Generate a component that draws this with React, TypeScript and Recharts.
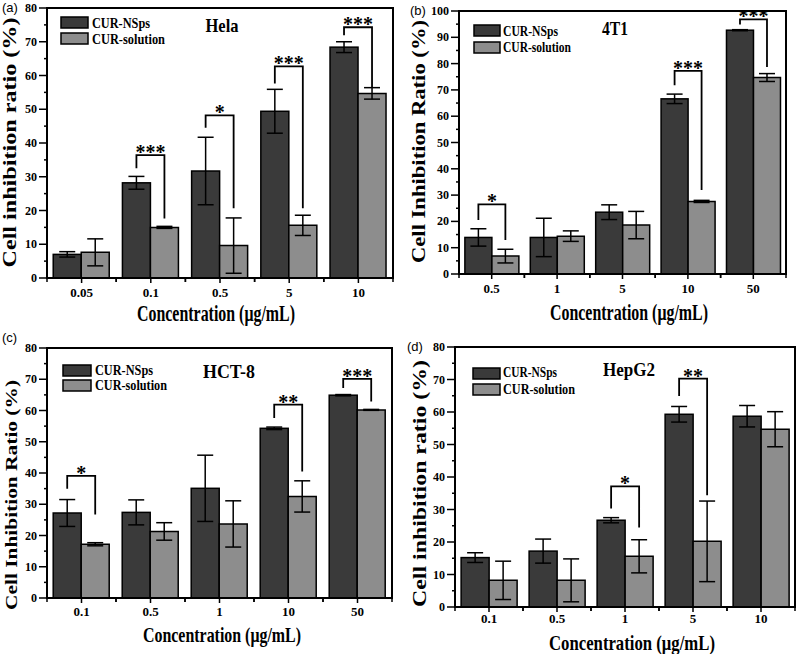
import React from 'react';
import { BarChart, Bar, XAxis, YAxis, ErrorBar, ReferenceArea } from 'recharts';

const SERIF = "'Liberation Serif', 'Times New Roman', serif";
const SANS = "'Liberation Sans', Arial, sans-serif";
const DARK = '#3a3a3a';
const LIGHT = '#8d8d8d';

// significance marks: [bracket top, left leg end, right leg end, stars]
type Sig = [number, number, number, string] | null;

// (a) Hela
const helaConc = ['0.05', '0.1', '0.5', '5', '10'];
const helaNsps = [7.0, 28.2, 31.7, 49.4, 68.4];
const helaNspsSd = [0.8, 1.9, 10.0, 6.5, 1.6];
const helaSol = [7.6, 15.0, 9.6, 15.6, 54.7];
const helaSolSd = [4.0, 0.3, 8.2, 3.0, 1.7];
const helaSig: Sig[] = [null, [36.4, 32.5, 17.6, '***'], [48.2, 44.5, 20.7, '*'], [62.7, 57.6, 20.7, '***'], [74.3, 71.9, 56.4, '***']];

// (b) 4T1
const t1Conc = ['0.5', '1', '5', '10', '50'];
const t1Nsps = [13.9, 13.9, 23.5, 66.6, 92.7];
const t1NspsSd = [3.3, 7.3, 2.8, 1.8, 0.2];
const t1Sol = [6.8, 14.4, 18.6, 27.6, 74.7];
const t1SolSd = [2.6, 2.0, 5.2, 0.4, 1.5];
const t1Sig: Sig[] = [[26.5, 20.5, 12.9, '*'], null, null, [77.2, 71.8, 31.9, '***'], [96.8, 94.9, 78.7, '***']];

// (c) HCT-8
const hctConc = ['0.1', '0.5', '1', '10', '50'];
const hctNsps = [27.2, 27.4, 35.1, 54.3, 64.9];
const hctNspsSd = [4.3, 4.0, 10.6, 0.4, 0.2];
const hctSol = [17.2, 21.3, 23.7, 32.5, 60.2];
const hctSolSd = [0.5, 2.8, 7.4, 5.0, 0.15];
const hctSig: Sig[] = [[39.1, 35.0, 26.7, '*'], null, null, [61.9, 57.6, 40.5, '**'], [70.1, 67.2, 62.9, '***']];

// (d) HepG2
const hepConc = ['0.1', '0.5', '1', '5', '10'];
const hepNsps = [15.2, 17.2, 26.7, 59.3, 58.7];
const hepNspsSd = [1.5, 3.7, 0.8, 2.4, 3.3];
const hepSol = [8.2, 8.2, 15.6, 20.2, 54.7];
const hepSolSd = [5.9, 6.6, 5.1, 12.4, 5.4];
const hepSig: Sig[] = [null, null, [37.1, 30.3, 24.5, '*'], [70.3, 64.9, 34.4, '**'], null];

const panels = [
  {
    letter: '(a)', title: 'Hela', yLabel: 'Cell inhibition ratio (%)', yMax: 80,
    conc: helaConc, nsps: helaNsps, nspsSd: helaNspsSd, sol: helaSol, solSd: helaSolSd, sig: helaSig,
    box: { x: 0, y: 0, w: 400, h: 330 }, plot: { l: 47, t: 8, r: 393, b: 278 }, tickDy: 19,
    letterPos: [2, 12], titlePos: [222, 32, 33], legend: { x: 61, y1: 17, y2: 33, w: 27, tx: 92, b1: 28, b2: 44, l1: 58, l2: 73 },
    yl: [16, 142.5, 250, 24], xl: [216, 321, 158, 24],
  },
  {
    letter: '(b)', title: '4T1', yLabel: 'Cell Inhibition Ratio (%)', yMax: 100,
    conc: t1Conc, nsps: t1Nsps, nspsSd: t1NspsSd, sol: t1Sol, solSd: t1SolSd, sig: t1Sig,
    box: { x: 400, y: 0, w: 400, h: 330 }, plot: { l: 459, t: 11, r: 786, b: 274 }, tickDy: 19,
    letterPos: [410, 15], titlePos: [615, 35, 26], legend: { x: 474, y1: 25, y2: 42, w: 26, tx: 503, b1: 36, b2: 52, l1: 55, l2: 68 },
    yl: [425, 141.5, 243, 24], xl: [629, 320, 158, 24],
  },
  {
    letter: '(c)', title: 'HCT-8', yLabel: 'Cell Inhibition Ratio (%)', yMax: 80,
    conc: hctConc, nsps: hctNsps, nspsSd: hctNspsSd, sol: hctSol, solSd: hctSolSd, sig: hctSig,
    box: { x: 0, y: 330, w: 400, h: 324 }, plot: { l: 47, t: 348, r: 392, b: 598 }, tickDy: 18,
    letterPos: [2, 342], titlePos: [229, 378, 52], legend: { x: 63, y1: 365, y2: 380, w: 28, tx: 95, b1: 375, b2: 390, l1: 58, l2: 72 },
    yl: [17, 495, 230, 22], xl: [222, 642, 158, 22],
  },
  {
    letter: '(d)', title: 'HepG2', yLabel: 'Cell inhibition ratio (%)', yMax: 80,
    conc: hepConc, nsps: hepNsps, nspsSd: hepNspsSd, sol: hepSol, solSd: hepSolSd, sig: hepSig,
    box: { x: 400, y: 330, w: 400, h: 324 }, plot: { l: 455, t: 347, r: 795, b: 607 }, tickDy: 16,
    letterPos: [407, 351], titlePos: [629, 376, 52], legend: { x: 473, y1: 368, y2: 384, w: 27, tx: 503, b1: 377, b2: 394, l1: 54, l2: 72 },
    yl: [426, 483.5, 247, 24], xl: [632, 650, 166, 21],
  },
];

const YTick = (props: any) => {
  const { x, y, payload } = props;
  const major = payload.value % 10 === 0;
  return (
    <g>
      <line x1={x} x2={x - (major ? 8 : 3)} y1={y} y2={y} stroke="#000" strokeWidth={1.5} />
      {major && (
        <text x={x - 10} y={y} dy={4} textAnchor="end" fontFamily={SERIF} fontWeight="bold" fontSize={12} fill="#000">
          {payload.value}
        </text>
      )}
    </g>
  );
};

const XTick = (props: any) => {
  const { x, y, payload, band, dy } = props;
  return (
    <g>
      <line x1={x} x2={x} y1={y} y2={y + 5} stroke="#000" strokeWidth={1.5} />
      <line x1={x - band / 2} x2={x - band / 2} y1={y} y2={y + 4} stroke="#000" strokeWidth={1.5} />
      <line x1={x + band / 2} x2={x + band / 2} y1={y} y2={y + 4} stroke="#000" strokeWidth={1.5} />
      <text x={x} y={y + dy} textAnchor="middle" fontFamily={SERIF} fontWeight="bold" fontSize={13} fill="#000">
        {payload.value}
      </text>
    </g>
  );
};

// dark bar + its significance bracket (right leg over the light bar next to it)
const makeShape = (sig: Sig[]) => (props: any) => {
  const { x, y, width, height, fill, index, payload } = props;
  const m = sig[index];
  let bracket = null;
  if (m && height > 0) {
    const ppu = height / payload.nsps;
    const base = y + height;
    const py = (v: number) => base - v * ppu;
    const lx = x + width / 2;
    const rx = x + width * 1.5;
    bracket = (
      <g>
        <path d={`M${lx},${py(m[1])}V${py(m[0])}H${rx}V${py(m[2])}`} fill="none" stroke="#000" strokeWidth={1.8} />
        <text x={(lx + rx) / 2} y={py(m[0]) + 4} textAnchor="middle" fontFamily={SERIF} fontWeight="bold" fontSize={20} fill="#000">
          {m[3]}
        </text>
      </g>
    );
  }
  return (
    <g>
      <rect x={x} y={y} width={width} height={height} fill={fill} stroke="#000" strokeWidth={1.5} />
      {bracket}
    </g>
  );
};

function Panel({ p }: { p: any }) {
  const rows = p.conc.map((c: string, i: number) => ({
    conc: c, nsps: p.nsps[i], nspsSd: p.nspsSd[i], sol: p.sol[i], solSd: p.solSd[i],
  }));
  const YW = 30;
  const XH = 25;
  const margin = {
    top: p.plot.t - p.box.y,
    left: p.plot.l - p.box.x - YW,
    right: p.box.x + p.box.w - p.plot.r,
    bottom: p.box.y + p.box.h - p.plot.b - XH,
  };
  const band = (p.plot.r - p.plot.l) / p.conc.length;
  const yTicks: number[] = [];
  for (let v = 0; v <= p.yMax; v += 5) yTicks.push(v);
  return (
    <div style={{ position: 'absolute', left: p.box.x, top: p.box.y }}>
      <BarChart width={p.box.w} height={p.box.h} data={rows} margin={margin} barGap={0} barCategoryGap="9%">
        <XAxis
          dataKey="conc" height={XH} interval={0} tickSize={0} tickMargin={0} tickLine={false}
          axisLine={{ stroke: '#000', strokeWidth: 2 }}
          tick={(tp: any) => <XTick {...tp} band={band} dy={p.tickDy} />}
        />
        <YAxis
          type="number" width={YW} domain={[0, p.yMax]} ticks={yTicks} interval={0} allowDataOverflow
          tickSize={0} tickMargin={0} tickLine={false} axisLine={{ stroke: '#000', strokeWidth: 2 }}
          tick={(tp: any) => <YTick {...tp} />}
        />
        <ReferenceArea y1={0} y2={p.yMax} fill="none" stroke="#000" strokeWidth={2} ifOverflow="visible" />
        <Bar dataKey="nsps" fill={DARK} isAnimationActive={false} shape={makeShape(p.sig)}>
          <ErrorBar dataKey="nspsSd" direction="y" width={8} stroke="#000" strokeWidth={1.5} />
        </Bar>
        <Bar dataKey="sol" fill={LIGHT} stroke="#000" strokeWidth={1.5} isAnimationActive={false}>
          <ErrorBar dataKey="solSd" direction="y" width={8} stroke="#000" strokeWidth={1.5} />
        </Bar>
      </BarChart>
    </div>
  );
}

function PanelText({ p }: { p: any }) {
  const lg = p.legend;
  return (
    <g fontFamily={SERIF} fontWeight="bold" fill="#000">
      <text x={p.letterPos[0]} y={p.letterPos[1]} fontFamily={SANS} fontWeight="normal" fontSize={13}>{p.letter}</text>
      <text x={p.titlePos[0]} y={p.titlePos[1]} textAnchor="middle" fontSize={19} textLength={p.titlePos[2]} lengthAdjust="spacingAndGlyphs">{p.title}</text>
      <rect x={lg.x} y={lg.y1} width={lg.w} height={11} fill={DARK} stroke="#000" strokeWidth={1.5} />
      <rect x={lg.x} y={lg.y2} width={lg.w} height={11} fill={LIGHT} stroke="#000" strokeWidth={1.5} />
      <text x={lg.tx} y={lg.b1} fontSize={15} textLength={lg.l1} lengthAdjust="spacingAndGlyphs">CUR-NSps</text>
      <text x={lg.tx} y={lg.b2} fontSize={15} textLength={lg.l2} lengthAdjust="spacingAndGlyphs">CUR-solution</text>
      <text
        transform={`translate(${p.yl[0]},${p.yl[1]}) scale(0.8,1) rotate(-90)`}
        textAnchor="middle" fontSize={p.yl[3]} textLength={p.yl[2]} lengthAdjust="spacingAndGlyphs"
      >
        {p.yLabel}
      </text>
      <text x={p.xl[0]} y={p.xl[1]} textAnchor="middle" fontSize={p.xl[3]} textLength={p.xl[2]} lengthAdjust="spacingAndGlyphs">
        Concentration (μg/mL)
      </text>
    </g>
  );
}

export default function App() {
  return (
    <div style={{ position: 'absolute', left: 0, top: 0, width: 800, height: 654, background: '#fff', overflow: 'hidden' }}>
      {panels.map((p) => (
        <Panel key={p.letter} p={p} />
      ))}
      <svg width={800} height={654} style={{ position: 'absolute', left: 0, top: 0, pointerEvents: 'none' }}>
        {panels.map((p) => (
          <PanelText key={p.letter} p={p} />
        ))}
      </svg>
    </div>
  );
}
